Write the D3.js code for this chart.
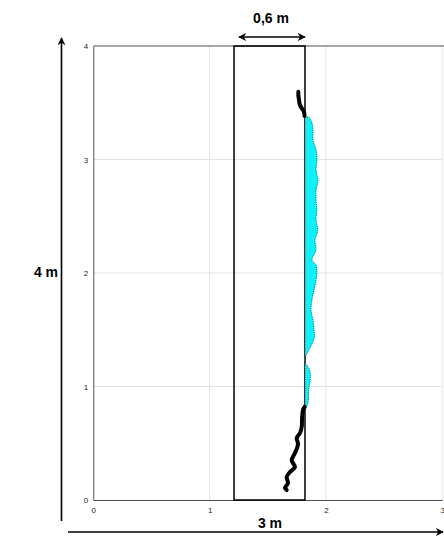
<!DOCTYPE html>
<html><head><meta charset="utf-8">
<script src="https://cdn.jsdelivr.net/npm/d3@7"></script>
<style>body{margin:0;background:#fff}svg{display:block}text{font-family:"Liberation Sans",Arial,sans-serif}</style>
</head><body><svg id="c" width="444" height="537"></svg>
<script>
// ---- data ----
const xTicks = [0, 1, 2, 3];
const yTicks = [0, 1, 2, 3, 4];
const rectX = [1.21, 1.82];
const rectY = [0, 4];
// cyan region boundary (y, x)
const bndY = [3.374,3.330,3.260,3.172,3.084,2.996,2.907,2.819,2.731,2.643,2.555,2.467,2.379,2.291,2.203,2.115,2.070,2.000,1.938,1.850,1.762,1.674,1.586,1.498,1.427,1.348,1.304,1.233,1.145,1.057,0.969,0.881,0.837,0.793];
const bndX = [1.850,1.878,1.889,1.889,1.915,1.923,1.915,1.932,1.915,1.915,1.923,1.915,1.930,1.906,1.915,1.880,1.915,1.923,1.915,1.898,1.880,1.872,1.889,1.898,1.900,1.866,1.845,1.815,1.860,1.865,1.852,1.850,1.840,1.822];
// black trace top (x, y)
const topX = [1.763,1.763,1.766,1.769,1.772,1.777,1.790,1.803,1.812,1.816];
const topY = [3.597,3.570,3.545,3.524,3.500,3.480,3.455,3.436,3.419,3.383];
// black trace bottom (x, y)
const botX = [1.816,1.803,1.795,1.792,1.777,1.749,1.760,1.755,1.734,1.706,1.720,1.734,1.712,1.691,1.663,1.674,1.660,1.648,1.663];
const botY = [0.820,0.793,0.720,0.643,0.590,0.546,0.500,0.467,0.414,0.352,0.320,0.291,0.265,0.247,0.203,0.150,0.125,0.106,0.088];
const labels = {top: "0,6 m", left: "4 m", bottom: "3 m"};

// ---- scales ----
const svg = d3.select("#c");
const x = d3.scaleLinear().domain([0, 3]).range([93.3, 442.2]);
const y = d3.scaleLinear().domain([0, 4]).range([500, 46]);
const axisCol = "#262626";

// grid
svg.append("g").selectAll("line").data(xTicks.slice(1)).join("line")
  .attr("x1", d => x(d)).attr("x2", d => x(d)).attr("y1", y(0)).attr("y2", y(4))
  .attr("stroke", "#e3e3e3").attr("stroke-width", 1);
svg.append("g").selectAll("line").data(yTicks.slice(1, 4)).join("line")
  .attr("x1", x(0)).attr("x2", x(3)).attr("y1", d => y(d)).attr("y2", d => y(d))
  .attr("stroke", "#e3e3e3").attr("stroke-width", 1);

// axes
const xAx = svg.append("g").attr("transform", `translate(0,${y(0)})`)
  .call(d3.axisBottom(x).tickValues(xTicks).tickSize(0).tickPadding(7).tickFormat(d3.format("d")));
const yAx = svg.append("g").attr("transform", `translate(${x(0)},0)`)
  .call(d3.axisLeft(y).tickValues(yTicks).tickSize(0).tickPadding(5).tickFormat(d3.format("d")));
[xAx, yAx].forEach(g => {
  g.select(".domain").attr("stroke", axisCol).attr("stroke-width", 0.8);
  g.selectAll("text").attr("fill", axisCol).attr("font-size", 8).attr("font-family", "Liberation Sans, Arial, sans-serif");
});
// top frame line
svg.append("line").attr("x1", x(0)).attr("x2", x(3) + 4).attr("y1", y(4)).attr("y2", y(4))
  .attr("stroke", axisCol).attr("stroke-width", 0.8);

// rectangle
svg.append("rect").attr("x", x(rectX[0])).attr("y", y(rectY[1]))
  .attr("width", x(rectX[1]) - x(rectX[0])).attr("height", y(rectY[0]) - y(rectY[1]))
  .attr("fill", "none").attr("stroke", "#000").attr("stroke-width", 1.5);

// cyan region
const poly = bndY.map((v, i) => [x(bndX[i]), y(v)]);
poly.push([x(rectX[1]), y(bndY[bndY.length - 1])]);
poly.unshift([x(rectX[1]), y(bndY[0])]);
svg.append("path")
  .attr("d", d3.line().curve(d3.curveCatmullRom)(poly) + "Z")
  .attr("fill", "#0ff0f8").attr("stroke", "#333").attr("stroke-width", 0.8)
  .attr("stroke-dasharray", "1.2,1");

// black traces
function trace(xs, ys) {
  const pts = xs.map((v, i) => [x(v), y(ys[i])]);
  svg.append("path").attr("d", d3.line().curve(d3.curveCatmullRom)(pts))
    .attr("fill", "none").attr("stroke", "#000").attr("stroke-width", 4)
    .attr("stroke-linecap", "round").attr("stroke-linejoin", "round");
}
trace(topX, topY);
trace(botX, botY);

// annotations
const defs = svg.append("defs");
defs.append("marker").attr("id", "ah").attr("viewBox", "0 0 10 10").attr("refX", 9).attr("refY", 5)
  .attr("markerWidth", 5).attr("markerHeight", 5).attr("orient", "auto-start-reverse")
  .append("path").attr("d", "M0,0 L10,5 L0,10 L3,5 Z").attr("fill", "#000");

svg.append("line").attr("x1", x(rectX[0]) + 5).attr("x2", x(rectX[1])).attr("y1", 37).attr("y2", 37)
  .attr("stroke", "#000").attr("stroke-width", 1.6)
  .attr("marker-start", "url(#ah)").attr("marker-end", "url(#ah)");
svg.append("text").attr("x", 271).attr("y", 23).attr("text-anchor", "middle")
  .attr("font-size", 14).attr("font-weight", "bold").text(labels.top);

svg.append("line").attr("x1", 61.5).attr("x2", 61.5).attr("y1", 521).attr("y2", 38)
  .attr("stroke", "#000").attr("stroke-width", 1.6).attr("marker-end", "url(#ah)");
svg.append("text").attr("x", 46).attr("y", 277).attr("text-anchor", "middle")
  .attr("font-size", 14).attr("font-weight", "bold").text(labels.left);

svg.append("line").attr("x1", 68).attr("x2", 443).attr("y1", 532).attr("y2", 532)
  .attr("stroke", "#000").attr("stroke-width", 1.6).attr("marker-end", "url(#ah)");
svg.append("text").attr("x", 270).attr("y", 528).attr("text-anchor", "middle")
  .attr("font-size", 14).attr("font-weight", "bold").text(labels.bottom);
</script></body></html>
